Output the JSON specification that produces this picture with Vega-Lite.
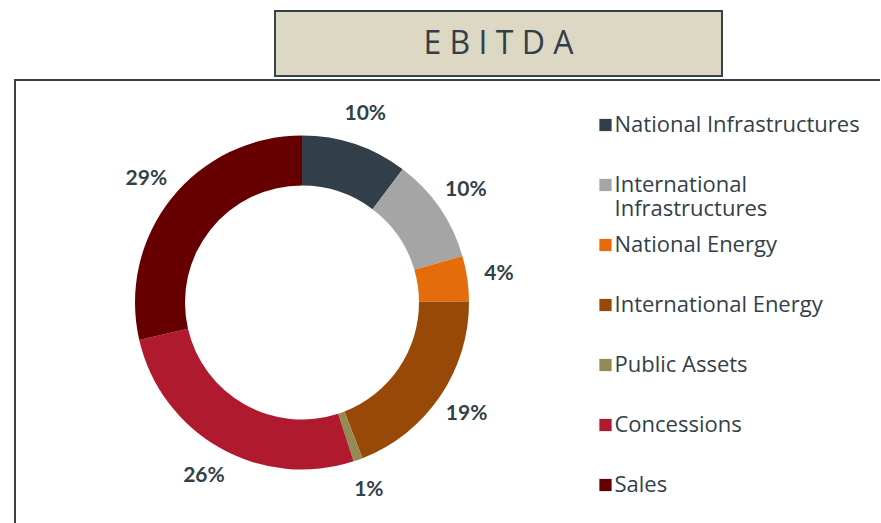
{
  "$schema": "https://vega.github.io/schema/vega-lite/v6.json",
  "padding": {"left": 14, "top": 10, "right": 0, "bottom": 0},
  "autosize": {"type": "pad"},
  "background": "white",
  "config": {"view": {"stroke": null}, "font": "Open Sans"},
  "data": {
    "values": [
      {"segment": "National Infrastructures", "share": 0.103, "idx": 1},
      {"segment": "International Infrastructures", "share": 0.102, "idx": 2},
      {"segment": "National Energy", "share": 0.044, "idx": 3},
      {"segment": "International Energy", "share": 0.192, "idx": 4},
      {"segment": "Public Assets", "share": 0.009, "idx": 5},
      {"segment": "Concessions", "share": 0.264, "idx": 6},
      {"segment": "Sales", "share": 0.286, "idx": 7}
    ]
  },
  "spacing": 2,
  "resolve": {"scale": {"color": "independent"}, "legend": {"color": "independent"}},
  "vconcat": [
    {
      "spacing": 0,
      "bounds": "flush",
      "data": {"values": [{"title": "E B I T D A"}]},
      "hconcat": [
        {
          "width": 260,
          "height": 65,
          "mark": {"type": "rect", "opacity": 0}
        },
        {
          "width": 447,
          "height": 65,
          "view": {"fill": "#DDD8C3", "stroke": "#36414A", "strokeWidth": 2},
          "mark": {"type": "text", "font": "Open Sans", "fontSize": 32, "color": "#333F48"},
          "encoding": {"text": {"field": "title", "type": "nominal"}}
        }
      ]
    },
    {
      "spacing": 0,
      "bounds": "flush",
      "resolve": {"scale": {"color": "independent"}, "legend": {"color": "independent"}},
      "hconcat": [
        {
          "width": 574,
          "height": 445,
          "view": {"stroke": "#36414A", "strokeWidth": 2, "strokeDash": [574, 1019, 460]},
          "encoding": {
            "theta": {"field": "share", "type": "quantitative", "stack": true},
            "order": {"field": "idx", "type": "quantitative"}
          },
          "layer": [
            {
              "mark": {"type": "arc", "innerRadius": 117, "outerRadius": 167},
              "encoding": {
                "color": {
                  "field": "segment",
                  "type": "nominal",
                  "sort": null,
                  "scale": {
                    "domain": ["National Infrastructures", "International Infrastructures", "National Energy", "International Energy", "Public Assets", "Concessions", "Sales"],
                    "range": ["#333F48", "#A5A5A5", "#E46C0A", "#984807", "#948A54", "#B01A2F", "#660000"]
                  },
                  "legend": {
                    "orient": "none",
                    "legendX": 579.5,
                    "legendY": 34,
                    "title": null,
                    "padding": 0,
                    "symbolType": "square",
                    "symbolSize": 150,
                    "symbolStrokeWidth": 0,
                    "labelFont": "Open Sans",
                    "labelFontSize": 22,
                    "labelColor": "#333F48",
                    "labelOffset": -2,
                    "labelLimit": 400,
                    "gridAlign": "all",
                    "rowPadding": 14,
                    "labelExpr": "datum.label == 'International Infrastructures' ? ['International', 'Infrastructures'] : datum.label"
                  }
                }
              }
            },
            {
              "mark": {"type": "text", "radius": 199, "font": "Lato", "fontWeight": "bold", "fontSize": 21, "color": "#333F48"},
              "encoding": {
                "detail": {"field": "segment", "type": "nominal"},
                "text": {"field": "share", "type": "quantitative", "format": ".0%"}
              }
            }
          ]
        },
        {
          "width": 291,
          "height": 445,
          "view": {"stroke": "#36414A", "strokeWidth": 2, "strokeDash": [291, 1181]},
          "mark": {"type": "rect", "fill": "white", "opacity": 0}
        }
      ]
    }
  ]
}
